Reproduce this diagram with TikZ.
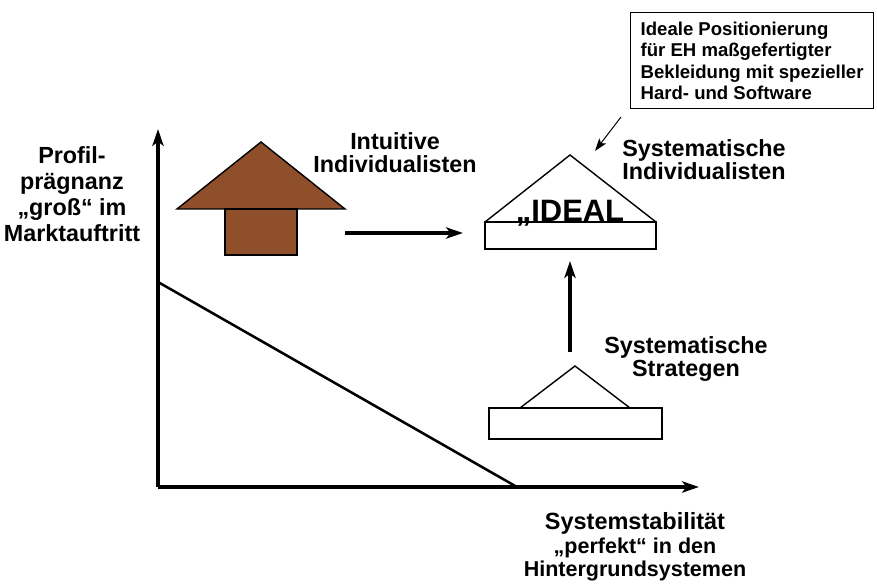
\documentclass[tikz,border=0pt]{standalone}
\usepackage{fontspec}
\setmainfont{Liberation Sans}
\usetikzlibrary{arrows.meta,positioning}
\definecolor{hausbraun}{RGB}{142,79,42}
\newcommand{\fs}[2]{\bfseries\fontsize{#1}{#2}\selectfont}

\begin{document}
\begin{tikzpicture}[x=0.025cm,y=-0.025cm,
  pfeil/.style={-{Stealth[length=12pt,width=8pt,inset=3pt]},line width=2.2pt},
  haus/.style={draw,line width=1pt,line join=miter},
  lbl/.style={align=center,anchor=base,inner sep=0pt,font=\fs{16.6}{17}}]
\useasboundingbox (0,0) rectangle (877,584);

% Achsen
\coordinate (O) at (158,487);
\coordinate (ytop) at (158,129);
\coordinate (xend) at (699,487);
\draw[pfeil] (O) -- (ytop);
\draw[pfeil] (O) -- (xend);
\draw[line width=1.8pt] (158,282) -- (517,487);

% intuitive Individualisten (braunes Haus)
\filldraw[haus,fill=hausbraun] (177,209) -- (261,142) -- (345,209) -- cycle;
\filldraw[haus,fill=hausbraun] (225,209) rectangle (297,255);
\coordinate (braun) at (345,233);

% Idealposition
\draw[haus] (485,222) -- (570,155) -- (656,222);
\draw[haus] (485,222) rectangle (656,249);
\coordinate (ideal-w) at (463,233);
\coordinate (ideal-s) at (570,261);
\node[anchor=base,font=\fs{22}{24},inner sep=0pt] (ideal) at (570,222) {„IDEAL};

% systematische Strategen
\draw[haus] (520,408) -- (575,366) -- (630,408);
\draw[haus] (489,408) rectangle (662,439);
\coordinate (strat) at (570,352);

\draw[pfeil] (braun) -- (ideal-w);
\draw[pfeil] (strat) -- (ideal-s);

% Beschriftungen (base = letzte Zeile)
\node[lbl] (intuitiv) at (395,173) {Intuitive\\Individualisten};
\node[lbl] (sysind) at (704,180) {Systematische\\Individualisten};
\node[lbl] (sysstr) at (686,377) {Systematische\\Strategen};
\node[lbl,font=\fs{16.6}{18.5}] (yachse) at (72,242)
  {Profil-\\prägnanz\\„groß“ im\\Marktauftritt};
\node[lbl,font=\fs{15.3}{16}] (xachse) at (635,576)
  {{\fs{16.7}{16}Systemstabilität}\\[1pt]„perfekt“ in den\\Hintergrundsystemen};

% Hinweiskasten
\node[draw,line width=1pt,anchor=north west,align=left,font=\fs{13.2}{15.2},
  inner xsep=0.25cm,minimum height=2.4cm] (kasten) at (630,12)
  {Ideale Positionierung\\für EH maßgefertigter\\Bekleidung mit spezieller\\Hard- und Software};
\coordinate (hinweis) at (621,117);
\coordinate (spitze) at (595,151);
\draw[-{Stealth[length=9pt,width=6pt,inset=2pt]},line width=0.7pt] (hinweis) -- (spitze);
\end{tikzpicture}
\end{document}
